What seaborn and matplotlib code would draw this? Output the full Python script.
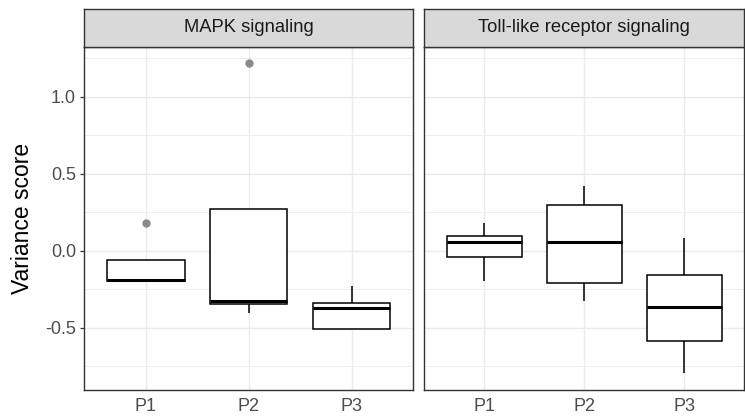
import numpy as np
import pandas as pd
import matplotlib
matplotlib.use("Agg")
import matplotlib.pyplot as plt
from matplotlib.ticker import MultipleLocator, FixedLocator
import seaborn as sns

# ---- data ----
pathways = ["MAPK signaling", "Toll-like receptor signaling"]
patients = ["P1", "P2", "P3"]

mapk_p1 = [-0.200, -0.197, -0.190, -0.060, 0.178]
mapk_p2 = [-0.407, -0.348, -0.327, 0.269, 1.220]
mapk_p3 = [-0.510, -0.508, -0.374, -0.338, -0.227]
toll_p1 = [-0.195, -0.043, 0.055, 0.097, 0.182]
toll_p2 = [-0.325, -0.212, 0.055, 0.297, 0.420]
toll_p3 = [-0.796, -0.586, -0.364, -0.160, 0.080]

y_ticks = [-0.5, 0.0, 0.5, 1.0]
y_ticklabels = ["-0.5", "0.0", "0.5", "1.0"]
y_label = "Variance score"

series = {
    ("MAPK signaling", "P1"): mapk_p1,
    ("MAPK signaling", "P2"): mapk_p2,
    ("MAPK signaling", "P3"): mapk_p3,
    ("Toll-like receptor signaling", "P1"): toll_p1,
    ("Toll-like receptor signaling", "P2"): toll_p2,
    ("Toll-like receptor signaling", "P3"): toll_p3,
}
rows = []
for (pw, pt), vals in series.items():
    for v in vals:
        rows.append((pw, pt, v))
df = pd.DataFrame(rows, columns=["pathway", "patient", "score"])

# ---- style ----
sns.set_theme(style="white")
plt.rcParams['font.family'] = ['Liberation Sans', 'DejaVu Sans']

W, H = 745, 419
fig = plt.figure(figsize=(W / 100, H / 100), dpi=100)
fig.patch.set_facecolor("white")

panels = [(84.3, 413.3), (424.3, 744.0)]
top, bottom, strip_top = 46.7, 390.0, 9.3
border = "#333333"

for i, (pw, (l, r)) in enumerate(zip(pathways, panels)):
    ax = fig.add_axes([l / W, 1 - bottom / H, (r - l) / W, (bottom - top) / H])
    sub = df[df["pathway"] == pw]
    sns.boxplot(data=sub, x="patient", y="score", order=patients, ax=ax,
                width=0.75, color="white", linecolor="black", linewidth=1.1,
                showcaps=False, whis=1.5, saturation=1,
                flierprops=dict(marker="o", markerfacecolor="#8a8a8a",
                                markeredgecolor="#8a8a8a", markersize=5),
                medianprops=dict(linewidth=2.2, color="black"))
    ax.set_xlim(-0.6, 2.6)
    ax.set_ylim(-0.904, 1.325)
    ax.set_facecolor("white")
    ax.set_axisbelow(True)
    ax.yaxis.set_major_locator(FixedLocator(y_ticks))
    ax.yaxis.set_minor_locator(MultipleLocator(0.25))
    ax.grid(which="major", color="#EBEBEB", linewidth=1.0)
    ax.grid(which="minor", axis="y", color="#EBEBEB", linewidth=0.6)
    ax.set_xlabel("")
    ax.set_ylabel("")
    for s in ax.spines.values():
        s.set_color(border)
        s.set_linewidth(1.0)
    ax.tick_params(which="minor", length=0)
    ax.tick_params(axis="x", which="major", length=3, width=0.9, color=border,
                   labelsize=13, labelcolor="#4D4D4D", pad=3)
    if i == 0:
        ax.set_yticklabels(y_ticklabels)
        ax.tick_params(axis="y", which="major", length=3, width=0.9, color=border,
                       labelsize=13, labelcolor="#4D4D4D", pad=3, left=True)
    else:
        ax.tick_params(axis="y", which="major", length=0, labelleft=False)

    # strip
    sax = fig.add_axes([l / W, 1 - top / H, (r - l) / W, (top - strip_top) / H])
    sax.set_facecolor("#D9D9D9")
    sax.set_xticks([])
    sax.set_yticks([])
    for s in sax.spines.values():
        s.set_color(border)
        s.set_linewidth(1.0)
    sax.text(0.5, 0.5, pw, ha="center", va="center", fontsize=13.2,
             color="#1A1A1A", transform=sax.transAxes)

fig.text(23 / W, 1 - ((top + bottom) / 2) / H, y_label, rotation=90,
         ha="center", va="center", fontsize=16.5, color="black")

fig.savefig("out.png", dpi=100, facecolor="white")
